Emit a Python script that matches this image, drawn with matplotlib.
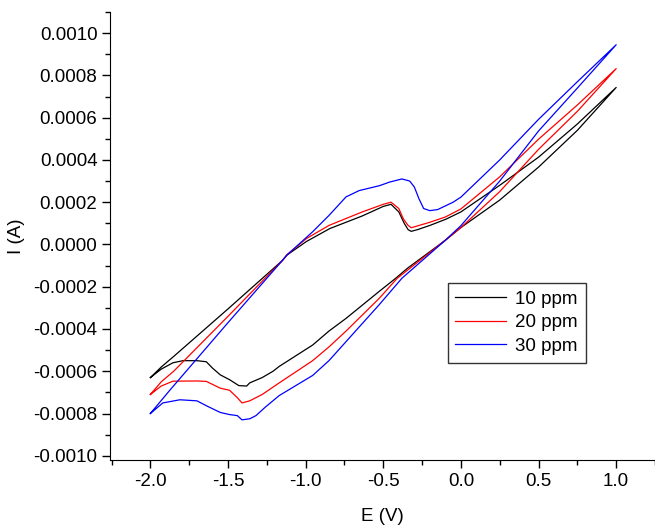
import matplotlib
matplotlib.use("Agg")
from matplotlib import pyplot as plt
from matplotlib.ticker import MultipleLocator, FormatStrFormatter

plt.rcParams['font.family'] = ['Liberation Sans', 'DejaVu Sans']
plt.rcParams['axes.unicode_minus'] = False

# cyclic voltammograms: loop starts at -2.0 V,
# runs forward to +1.0 V and comes back to -2.0 V
e_10 = [-2.0, -1.93, -1.855, -1.79, -1.70, -1.64, -1.60, -1.55, -1.49, -1.43, -1.38, -1.36, -1.28,
        -1.21, -1.17, -0.955, -0.85, -0.74, -0.526, -0.42, -0.345, -0.1, 0.0, 0.25, 0.5, 0.75, 1.0,
        0.75, 0.5, 0.25, 0.0, -0.095, -0.2, -0.28, -0.32, -0.34, -0.365, -0.40, -0.45, -0.5,
        -0.635, -0.845, -0.995, -1.12, -1.15, -1.5, -1.85, -1.93, -2.0]
i_10 = [-0.00063, -0.00059, -0.00056, -0.00055, -0.00055, -0.000555, -0.000585, -0.000617, -0.00064,
        -0.000668, -0.00067, -0.000655, -0.00063, -0.0006, -0.000577, -0.000476, -0.00041, -0.00035,
        -0.000222, -0.00016, -0.000113, 0.00002, 0.00008, 0.00021, 0.000366, 0.00054, 0.000743,
        0.00057, 0.000413, 0.00028, 0.000154, 0.00012, 0.00009, 0.00007, 0.000062, 0.00007,
        0.0001, 0.000154, 0.00019, 0.00018, 0.000135, 0.000075, 0.000014, -0.00005, -0.000076,
        -0.000305, -0.00053, -0.00058, -0.00063]

e_20 = [-2.0, -1.93, -1.855, -1.70, -1.64, -1.55, -1.49, -1.44, -1.41, -1.36, -1.28, -1.17,
        -0.955, -0.85, -0.74, -0.526, -0.41, -0.1, 0.0, 0.25, 0.5, 0.75, 1.0,
        0.75, 0.5, 0.25, 0.0, -0.1, -0.2, -0.32, -0.34, -0.37, -0.40, -0.45, -0.5,
        -0.635, -0.85, -0.995, -1.12, -1.15, -1.5, -1.85, -1.93, -2.0]
i_20 = [-0.00071, -0.00067, -0.000647, -0.000646, -0.000648, -0.00068, -0.00069, -0.000725, -0.00075,
        -0.00074, -0.00071, -0.000655, -0.00055, -0.000485, -0.00041, -0.000255, -0.00016, 0.00002,
        0.00008, 0.00025, 0.00045, 0.00063, 0.000832,
        0.00066, 0.000498, 0.00032, 0.000168, 0.00013, 0.000105, 0.000079, 0.00009, 0.00012,
        0.00017, 0.0002, 0.00019, 0.000154, 0.00009, 0.000028, -0.000048, -0.000076,
        -0.00034, -0.0006, -0.00065, -0.00071]

e_30 = [-2.0, -1.92, -1.81, -1.70, -1.64, -1.55, -1.49, -1.44, -1.41, -1.36, -1.32, -1.26, -1.17,
        -0.955, -0.85, -0.74, -0.526, -0.38, -0.1, 0.0, 0.25, 0.5, 0.75, 1.0,
        0.75, 0.5, 0.25, 0.0, -0.05, -0.15, -0.2, -0.24, -0.27, -0.30, -0.33, -0.38, -0.46,
        -0.525, -0.655, -0.74, -0.85, -0.955, -1.12, -1.15, -1.5, -1.875, -2.0]
i_30 = [-0.00080, -0.00075, -0.000735, -0.00074, -0.000763, -0.000795, -0.000805, -0.00081, -0.00083,
        -0.000825, -0.00081, -0.00077, -0.000715, -0.00062, -0.00055, -0.00046, -0.000285, -0.00016,
        0.00002, 0.000089, 0.0003, 0.000537, 0.00074, 0.000945,
        0.00077, 0.000592, 0.0004, 0.000224, 0.0002, 0.000165, 0.00016, 0.00017, 0.000216,
        0.000272, 0.0003, 0.00031, 0.000295, 0.000278, 0.000255, 0.000225, 0.000137, 0.00006,
        -0.00005, -0.000076, -0.00037, -0.00069, -0.0008]

labels = ['10 ppm', '20 ppm', '30 ppm']
colors = ['black', 'red', 'blue']

fig = plt.figure(figsize=(6.55, 5.27), dpi=100)
ax = fig.add_axes([110 / 655, 67 / 527, 545 / 655, 448 / 527])

for e, i, lab, c in zip([e_10, e_20, e_30], [i_10, i_20, i_30], labels, colors):
    ax.plot(e, i, color=c, lw=0.9, label=lab)

ax.set_xlim(-2.26, 1.25)
ax.set_ylim(-0.00102, 0.0011)
ax.xaxis.set_major_locator(MultipleLocator(0.5))
ax.xaxis.set_minor_locator(MultipleLocator(0.25))
ax.yaxis.set_major_locator(MultipleLocator(0.0002))
ax.yaxis.set_minor_locator(MultipleLocator(0.0001))
ax.xaxis.set_major_formatter(FormatStrFormatter('%.1f'))
ax.yaxis.set_major_formatter(FormatStrFormatter('%.4f'))

ax.spines['top'].set_visible(False)
ax.spines['right'].set_visible(False)
ax.tick_params(which='major', direction='out', length=6, width=1, labelsize=13.5, pad=3)
ax.tick_params(which='minor', direction='out', length=3.5, width=1)

ax.set_xlabel('E (V)', fontsize=13.5, labelpad=13)
ax.set_ylabel('I (A)', fontsize=13.5, labelpad=6)

leg = ax.legend(loc='upper left', bbox_to_anchor=(0.62, 0.395), fontsize=13.5, frameon=True,
                fancybox=False, edgecolor='black', handlelength=2.7, borderpad=0.4,
                labelspacing=0.35, handletextpad=0.5, borderaxespad=0)
leg.get_frame().set_linewidth(1.0)

fig.savefig('out.png', dpi=100)
